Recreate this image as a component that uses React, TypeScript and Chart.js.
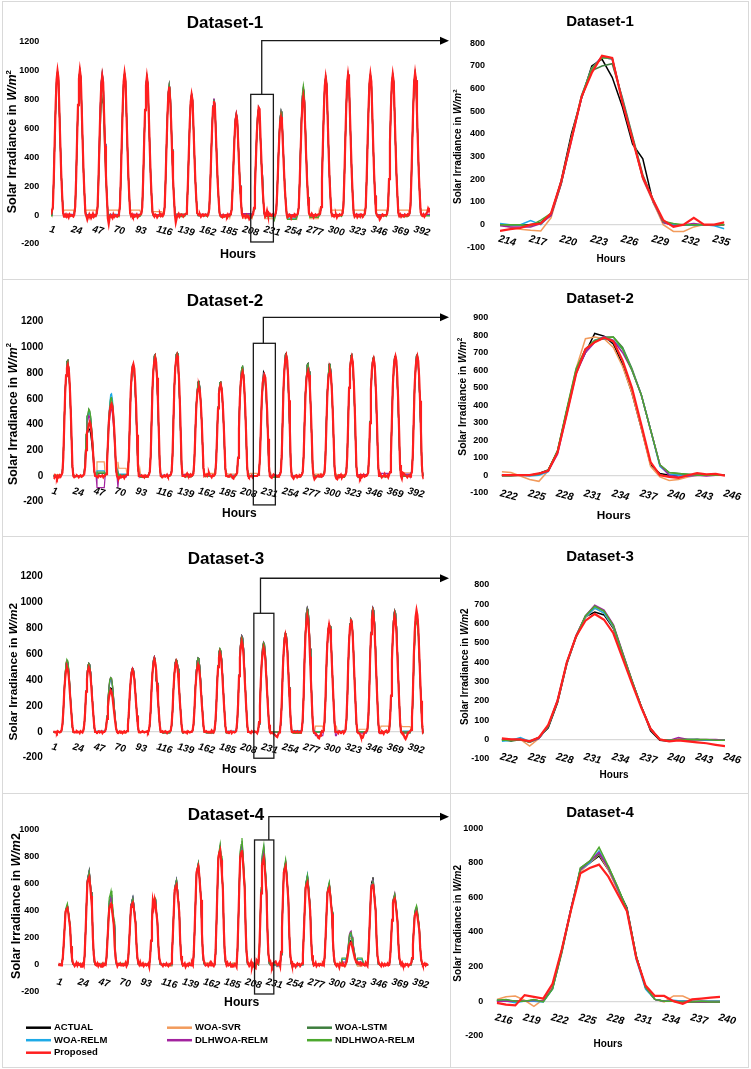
import React, { useEffect, useRef } from 'react';
import { Chart, registerables } from 'chart.js';

Chart.register(...registerables);

const FONT = "'Liberation Sans', Arial, Helvetica, sans-serif";
Chart.defaults.font.family = FONT;

// ---------- series identity ----------
const SERIES_NAMES = ['ACTUAL', 'WOA-SVR', 'WOA-LSTM', 'WOA-RELM', 'DLHWOA-RELM', 'NDLHWOA-RELM', 'Proposed'];
const SERIES_COLORS = ['#000000', '#F29B5C', '#3E7E3E', '#1EAAE7', '#A3239F', '#4CA82E', '#FF1F1F'];

// ---------- tick labels ----------
const BIG_TICKS = [1, 24, 47, 70, 93, 116, 139, 162, 185, 208, 231, 254, 277, 300, 323, 346, 369, 392];
const Z1_TICKS = [214, 217, 220, 223, 226, 229, 232, 235];
const Z2_TICKS = [222, 225, 228, 231, 234, 237, 240, 243, 246];
const Z3_TICKS = [222, 225, 228, 231, 234, 237, 240, 243, 246];
const Z4_TICKS = [216, 219, 222, 225, 228, 231, 234, 237, 240];

// ---------- categories (hours) ----------
const BIG_HOURS = Array.from({ length: 408 }, (_, i) => i + 1);
const Z1_HOURS = Array.from({ length: 23 }, (_, i) => 214 + i);
const Z2_HOURS = Array.from({ length: 25 }, (_, i) => 222 + i);
const Z3_HOURS = Array.from({ length: 25 }, (_, i) => 222 + i);
const Z4_HOURS = Array.from({ length: 25 }, (_, i) => 216 + i);

// ---------- Dataset-1 (hourly, one row per day) ----------
const d1Actual = [
  [0,10,60,260,515,755,935,995,945,725,500,290,140,20,0,0,0,0,0,0,0,0,0,0],
  [0,10,60,260,525,765,945,1005,955,735,505,290,140,20,0,0,0,0,0,0,0,0,0,0],
  [0,10,60,255,510,750,925,985,935,720,495,285,140,20,0,0,0,0,0,0,0,0,0,0],
  [0,10,60,255,515,750,925,985,935,715,490,285,135,20,0,0,0,0,0,0,0,0,0,0],
  [0,10,60,250,500,730,900,960,910,700,480,280,135,20,0,0,0,0,0,0,0,0,0,0],
  [0,10,55,235,470,690,850,905,860,660,455,260,125,20,0,0,0,0,0,0,0,0,0,0],
  [0,10,50,220,435,640,790,840,800,615,420,245,120,15,0,0,0,0,0,0,0,0,0,0],
  [0,10,50,210,420,610,755,805,765,590,405,235,115,15,0,0,0,0,0,0,0,0,0,0],
  [0,5,40,185,365,535,665,705,670,515,355,205,100,15,0,0,0,0,0,0,0,0,0,0],
  [0,10,45,195,400,560,700,730,650,520,355,290,100,10,0,0,0,0,0,0,0,0,0,0],
  [0,5,45,185,375,545,675,720,685,525,360,210,100,15,0,0,0,0,0,0,0,0,0,0],
  [0,10,55,230,460,670,825,880,835,640,440,255,125,20,0,0,0,0,0,0,0,0,0,0],
  [0,10,60,250,500,730,900,960,910,700,480,280,135,20,0,0,0,0,0,0,0,0,0,0],
  [0,10,60,255,505,740,915,975,925,710,490,285,135,20,0,0,0,0,0,0,0,0,0,0],
  [0,10,60,255,505,740,915,975,925,710,490,285,135,20,0,0,0,0,0,0,0,0,0,0],
  [0,10,60,250,505,740,915,975,925,715,490,285,140,20,0,0,0,0,0,0,0,0,0,0],
  [0,10,60,255,510,750,925,985,935,720,495,285,140,20,0,0,0,0,0,0,0,0,0,0],
];
const d1Proposed = [
  [5,5,55,255,520,765,940,1000,950,725,495,285,135,15,-10,-5,5,-10,0,-15,5,-5,0,-5],
  [-10,5,60,255,525,765,945,1005,955,735,505,290,135,10,-5,-30,-10,5,-15,0,-5,10,-10,0],
  [-5,10,55,245,500,735,905,965,920,705,480,275,130,-20,-60,-15,0,-10,-20,5,-10,0,-5,-10],
  [0,10,60,255,510,750,925,985,935,720,495,285,140,15,-5,5,-10,0,-10,-5,5,-15,-5,0],
  [5,10,55,250,500,730,900,960,910,700,480,280,135,20,0,-10,5,0,-15,-5,0,10,-5,5],
  [-5,5,50,230,465,680,835,890,800,650,445,255,125,5,-50,-20,0,10,-10,0,5,0,-10,0],
  [5,10,50,215,430,635,785,835,795,610,420,240,115,15,5,0,5,-10,0,5,-5,0,5,0],
  [-5,5,45,205,410,600,745,790,750,575,395,230,110,15,-5,-10,-15,0,-10,-5,0,-10,5,-5],
  [0,5,40,180,360,525,650,690,655,505,345,200,95,10,-10,0,-5,-15,0,-10,-5,-28,-20,-15],
  [0,5,50,190,375,565,670,745,735,540,375,210,110,20,-10,0,30,0,0,10,0,-5,5,0],
  [-5,5,40,175,355,520,640,680,645,495,340,195,95,10,-15,-10,5,0,-20,-5,0,-10,5,0],
  [0,10,50,215,430,630,775,825,785,600,410,240,115,15,0,-5,10,0,-15,0,5,-5,0,5],
  [5,10,55,250,495,725,895,955,905,695,475,275,135,20,-5,0,-10,0,5,-15,0,-5,5,0],
  [0,10,60,255,505,740,915,975,925,710,490,285,135,15,-10,0,5,-15,-5,0,-10,5,0,-5],
  [5,10,60,255,505,740,915,975,925,710,490,285,135,20,0,-10,-5,-30,-20,0,5,-5,0,0],
  [0,10,60,250,505,740,915,975,925,710,490,280,135,15,-5,5,-10,0,-5,-10,5,0,-5,5],
  [0,10,60,255,510,750,925,985,935,720,495,285,140,20,0,-5,5,-10,0,10,20,45,30,50],
];
// other models: daily peak and night level read per day
const d1SvrPeak = [990,1000,975,980,955,900,835,800,700,735,715,870,955,970,970,970,980];
const d1SvrNight = [35,35,35,35,25,10,5,0,-20,-25,-10,-25,35,35,35,35,35];
const d1LstmPeak = [985,995,810,975,950,880,830,795,690,700,700,860,950,965,965,965,975];
const d1LstmNight = [0,-5,-10,0,-5,0,-5,-10,-5,0,-30,-5,0,-5,0,-5,0];
const d1RelmPeak = [990,1000,980,980,955,900,835,800,700,740,715,875,955,970,970,970,980];
const d1RelmNight = [0,0,5,0,0,5,0,-5,0,0,-20,0,0,0,0,0,0];
const d1DlhPeak = [990,1000,975,980,955,905,840,810,710,740,715,880,955,970,970,970,980];
const d1DlhNight = [5,0,0,5,0,0,5,0,10,5,0,0,0,5,0,0,5];
const d1NdlPeak = [995,1000,900,980,955,905,835,800,700,735,715,900,960,970,970,970,980];
const d1NdlNight = [-5,-10,-5,-10,-5,-10,0,-10,-5,-10,-30,-15,-5,-10,-5,-10,-5];

// ---------- Dataset-2 ----------
const d2Actual = [
  [0,0,0,0,0,0,0,0,0,10,35,155,415,655,785,890,900,835,700,520,295,70,10,0],
  [0,0,0,0,0,0,0,0,0,5,20,80,230,330,340,370,360,330,270,200,120,30,5,0],
  [0,0,0,0,0,0,0,0,0,5,20,95,260,410,485,555,560,520,435,325,185,45,5,0],
  [0,0,0,0,0,0,0,0,0,10,35,150,400,635,755,860,870,810,680,505,285,70,10,0],
  [0,0,0,0,0,0,0,0,0,10,40,160,435,690,820,935,945,880,735,550,310,75,10,0],
  [0,0,0,0,0,0,0,0,0,10,40,160,440,695,830,945,955,890,745,555,315,75,10,0],
  [0,0,0,0,0,0,0,0,0,5,30,125,340,540,645,730,740,690,575,430,245,60,5,0],
  [0,0,0,0,0,0,0,0,0,5,30,125,335,535,635,725,730,680,570,425,240,60,5,0],
  [0,0,0,0,0,0,0,0,0,10,35,145,390,620,740,840,850,790,665,495,280,70,10,0],
  [0,0,0,0,0,0,0,0,0,10,30,135,370,590,700,810,795,750,630,470,270,60,10,0],
  [0,0,0,0,0,0,0,0,0,10,40,160,440,695,830,945,955,890,745,555,315,75,10,0],
  [0,0,0,0,0,0,0,0,0,10,35,150,400,640,760,865,875,815,685,510,290,70,10,0],
  [0,0,0,0,0,0,0,0,0,10,35,150,405,640,760,870,875,815,680,505,290,70,10,0],
  [0,0,0,0,0,0,0,0,0,10,40,160,435,690,820,935,945,880,735,550,310,75,10,0],
  [0,0,0,0,0,0,0,0,0,10,35,155,425,675,805,915,925,860,720,535,305,75,10,0],
  [0,0,0,0,0,0,0,0,0,10,35,160,430,680,815,925,935,870,730,540,310,75,10,0],
  [0,0,0,0,0,0,0,0,0,10,40,160,435,690,820,935,945,880,735,550,310,75,10,0],
];
const d2Proposed = [
  [-10,-15,5,-5,-20,0,-10,5,-5,10,25,145,390,640,780,840,865,830,720,545,320,80,0,-10],
  [-5,0,5,0,-10,0,5,-5,0,5,15,70,200,340,360,400,420,400,340,260,150,40,0,0],
  [0,-10,5,0,-5,0,5,-10,0,5,15,95,250,415,505,545,560,540,465,355,205,50,0,-15],
  [-20,-15,0,-10,-5,0,-15,0,5,10,25,150,390,645,785,845,870,835,720,550,320,80,0,0],
  [0,5,-5,0,-10,5,0,-5,0,10,30,155,415,680,830,890,920,885,765,580,340,85,0,-5],
  [-10,0,5,-5,0,10,-5,0,5,10,30,160,420,690,840,905,935,900,775,590,345,85,0,0],
  [0,-5,10,20,5,0,-5,10,0,5,20,120,315,515,625,675,695,665,575,440,255,65,0,5],
  [10,0,15,25,5,0,-10,5,0,5,20,120,320,525,640,690,710,680,590,445,265,65,0,0],
  [-5,0,5,10,0,-15,-20,0,5,10,25,140,365,600,730,785,810,780,670,510,300,75,0,-10],
  [-5,0,5,-10,0,0,0,0,0,10,25,130,350,580,720,760,785,765,655,500,290,75,0,-10],
  [-15,0,12,5,8,-3,0,-5,5,10,30,160,420,690,840,905,935,900,775,590,345,85,0,-10],
  [-20,-5,0,5,-10,0,-5,5,0,10,25,140,370,605,740,795,820,785,680,515,305,75,0,-25],
  [-15,-10,0,5,-5,0,10,-5,0,10,25,140,370,605,740,795,820,790,680,515,300,75,0,-20],
  [-25,-5,5,0,10,-15,0,-5,0,10,30,155,415,685,835,895,925,890,770,585,340,85,0,-5],
  [0,-15,5,-10,0,10,-5,0,0,10,25,155,410,675,820,885,910,875,755,575,335,80,0,0],
  [5,-10,0,0,15,-5,0,5,-10,10,30,160,420,690,835,900,930,895,770,585,345,85,0,-20],
  [25,20,10,5,0,-10,0,5,-5,10,30,160,420,690,835,900,930,895,770,585,345,85,0,-25],
];
const d2SvrPeak = [880,500,600,860,935,945,720,720,840,790,945,860,860,935,915,925,935];
const d2SvrNight = [10,0,110,60,5,0,15,20,15,20,0,5,15,10,5,0,25];
const d2LstmPeak = [900,520,610,860,940,955,740,730,850,790,950,870,870,940,920,930,940];
const d2LstmNight = [0,0,20,10,-10,0,-5,0,-5,0,-10,-5,0,-10,0,-5,0];
const d2RelmPeak = [890,500,640,865,935,945,730,725,845,780,945,865,865,935,915,925,935];
const d2RelmNight = [0,0,40,15,0,5,0,0,5,0,0,0,-5,0,0,5,10];
const d2DlhPeak = [890,470,520,860,935,945,730,725,840,790,945,865,865,935,915,925,935];
const d2DlhNight = [0,0,-90,-10,0,5,10,5,0,0,5,0,0,0,10,20,15];
const d2NdlPeak = [895,520,610,865,940,950,735,730,850,780,950,870,870,940,920,930,940];
const d2NdlNight = [0,-5,30,5,-10,0,-5,0,-5,0,-10,-5,0,-10,0,-5,0];

// ---------- Dataset-3 ----------
const d3Actual = [
  [0,0,0,0,0,0,0,0,0,10,45,150,305,415,500,520,510,450,350,235,135,35,0,0],
  [0,0,0,0,0,0,0,0,0,10,50,155,315,425,510,530,520,460,355,240,140,35,0,0],
  [0,0,0,0,0,0,0,0,0,5,30,100,200,270,325,340,335,295,230,155,90,25,0,0],
  [0,0,0,0,0,0,0,0,0,5,45,140,290,390,470,490,480,425,330,220,125,35,0,0],
  [0,0,0,0,0,0,0,0,0,10,50,170,340,465,555,580,560,400,380,250,150,40,0,0],
  [0,0,0,0,0,0,0,0,0,10,50,160,325,445,535,555,545,485,370,250,145,40,0,0],
  [0,0,0,0,0,0,0,0,0,10,50,165,335,455,545,570,560,495,380,255,150,40,0,0],
  [0,0,0,0,0,0,0,0,0,10,60,185,380,510,615,640,625,555,430,290,165,45,0,0],
  [0,0,0,0,0,0,0,0,0,10,65,215,440,595,715,745,730,650,500,335,195,50,0,0],
  [0,0,0,0,0,0,-5,0,-10,10,60,190,390,530,635,660,645,575,440,300,170,45,-5,-10],
  [0,-5,0,-5,-5,-5,0,0,0,10,70,220,450,610,735,765,750,665,515,345,200,55,0,0],
  [0,0,0,0,0,0,0,0,0,15,85,280,565,770,920,960,940,835,645,430,250,65,0,0],
  [0,0,0,0,0,0,0,0,0,10,75,240,490,665,795,830,815,720,555,375,215,60,0,0],
  [0,0,0,0,0,0,0,0,0,15,80,250,515,695,835,870,855,755,585,390,225,60,0,0],
  [0,0,0,0,0,0,0,0,0,15,85,280,565,770,920,960,940,835,645,430,250,65,0,0],
  [0,0,0,0,0,0,0,0,0,15,85,275,555,750,900,940,920,820,630,425,245,65,0,0],
  [0,0,0,0,0,0,0,0,0,15,80,260,530,720,865,900,880,785,605,405,235,65,0,0],
];
const d3Proposed = [
  [5,0,-5,0,-10,5,0,-5,0,10,55,155,310,410,475,500,480,425,325,225,130,45,0,-5],
  [0,-5,5,0,0,-10,5,0,-5,10,55,155,310,410,475,500,480,425,325,225,130,45,0,0],
  [-5,0,5,-5,0,5,-10,0,0,5,35,100,195,260,300,320,305,270,205,140,80,25,0,-5],
  [0,5,-5,0,-10,0,5,-5,0,5,55,150,295,395,455,480,460,405,310,215,120,40,0,0],
  [-5,0,5,0,-5,0,0,5,-5,10,65,175,345,460,530,560,535,475,360,250,145,50,0,0],
  [5,-5,0,5,0,-10,0,0,5,10,60,165,330,445,510,540,515,455,350,240,140,45,0,-5],
  [0,-5,0,-10,5,0,-5,0,0,10,60,160,320,425,490,520,495,440,335,230,135,45,0,0],
  [5,0,-5,0,0,-5,10,0,-5,10,70,190,375,500,575,610,585,515,395,270,155,50,0,-5],
  [0,-5,0,5,-10,0,0,-5,0,10,80,215,430,575,660,700,670,590,450,310,180,60,0,0],
  [0,-10,5,0,-5,5,0,0,-10,10,75,200,400,535,615,650,620,550,420,290,165,55,0,-10],
  [-5,-10,-15,-20,-28,-35,-40,-20,-5,10,85,235,460,615,710,750,715,635,485,335,190,65,0,-5],
  [0,5,-5,0,5,-5,0,0,-5,15,105,280,555,740,850,900,860,760,580,400,230,75,0,-10],
  [-10,-20,-30,-45,-50,-30,-10,5,0,10,95,255,510,680,785,830,795,700,535,370,210,70,0,0],
  [0,-10,5,0,-5,0,5,-10,0,15,100,270,535,715,820,870,830,735,560,385,220,75,0,-10],
  [-10,-20,-40,-50,-45,-20,-5,0,5,15,105,285,565,755,870,920,880,775,595,410,235,80,0,-10],
  [-10,5,0,-15,0,5,10,-5,0,15,105,280,555,740,850,900,860,760,580,400,230,75,0,-10],
  [-10,-25,-45,-55,-40,-20,-5,0,5,15,110,290,580,770,890,940,900,795,605,420,240,80,0,10],
];
const d3SvrPeak = [520,520,400,490,570,550,560,630,730,680,760,950,830,865,955,935,900];
const d3SvrNight = [0,0,0,-10,0,0,0,0,0,0,-5,0,45,0,20,45,40];
const d3LstmPeak = [550,530,410,490,575,555,570,640,735,690,765,955,830,870,955,935,895];
const d3LstmNight = [-5,0,0,-5,0,-10,0,-10,0,-5,0,-10,0,0,-5,0,-10];
const d3RelmPeak = [540,525,400,490,575,555,565,635,735,680,760,950,825,865,955,935,900];
const d3RelmNight = [0,0,5,0,0,-5,0,0,5,0,0,10,0,5,0,0,5];
const d3DlhPeak = [545,530,420,495,580,560,570,640,740,695,765,955,830,870,960,935,900];
const d3DlhNight = [0,0,0,0,0,0,0,0,0,0,0,0,-30,0,-10,0,0];
const d3NdlPeak = [560,530,420,490,575,560,570,645,735,690,765,950,830,870,955,935,850];
const d3NdlNight = [-5,0,0,-5,0,-5,0,-5,-5,0,0,-10,0,0,0,-5,0];

// ---------- Dataset-4 ----------
const d4Actual = [
  [0,0,0,0,0,45,160,280,395,420,440,395,340,280,135,45,5,0,0,0,0,0,0,0],
  [0,0,0,0,0,70,250,450,630,665,700,630,540,450,215,70,5,0,0,0,0,0,0,0],
  [0,0,0,0,0,45,170,300,425,445,470,420,360,300,270,50,5,0,0,0,0,0,0,0],
  [0,0,0,0,0,50,180,320,450,475,500,450,385,320,155,50,5,0,0,0,0,0,0,0],
  [0,0,0,0,0,50,175,315,470,440,490,480,380,315,150,50,5,0,0,0,0,0,0,0],
  [0,0,0,0,0,65,225,405,565,600,630,565,485,405,195,65,5,0,0,0,0,0,0,0],
  [0,0,0,0,0,75,270,480,675,715,750,675,580,480,235,75,10,0,0,0,0,0,0,0],
  [0,0,0,0,0,85,315,555,785,825,870,785,670,555,270,85,10,0,0,0,0,0,0,0],
  [0,0,0,0,0,90,315,565,790,835,880,790,680,565,275,90,10,0,0,0,0,0,0,0],
  [5,0,0,5,0,80,300,540,760,800,840,760,650,540,260,80,10,0,0,0,0,0,0,0],
  [0,0,0,0,0,75,275,485,685,720,760,685,585,485,235,75,10,0,0,0,0,0,0,0],
  [0,0,0,0,0,65,240,420,595,625,660,595,510,420,205,65,5,0,0,0,0,0,0,0],
  [0,0,0,0,0,60,215,385,540,570,600,540,460,385,185,60,5,0,0,0,0,0,0,0],
  [0,0,0,0,0,20,60,110,160,175,180,150,120,90,60,30,10,0,0,0,0,0,0,0],
  [0,0,0,0,0,65,235,415,585,620,650,585,500,415,200,65,5,0,0,0,0,0,0,0],
  [0,0,0,0,0,50,185,325,460,485,510,460,395,325,160,50,5,0,0,0,0,0,0,0],
  [0,0,0,0,0,40,150,270,380,400,420,380,325,270,130,40,5,0,0,0,0,0,0,0],
];
const d4Proposed = [
  [-10,5,0,-5,10,55,160,280,395,410,420,385,330,275,135,50,15,5,-10,0,15,-5,10,0],
  [5,-15,0,10,-5,80,245,435,610,635,650,590,510,430,205,75,25,0,-5,10,-10,5,0,-15],
  [0,10,-5,5,0,55,170,300,420,440,450,410,355,295,140,50,15,-10,5,0,10,-5,0,5],
  [-5,0,15,-10,5,60,175,310,430,450,460,420,360,300,145,50,15,0,20,-5,0,10,-10,0],
  [5,-5,0,10,-15,60,180,320,470,430,480,440,375,315,150,55,20,5,0,-10,5,0,-5,10],
  [0,-10,5,0,10,75,225,395,555,575,590,535,465,390,185,65,20,-5,0,10,-15,0,5,-5],
  [10,0,-5,15,0,95,275,490,685,710,730,665,575,480,230,85,30,10,-5,0,5,-10,0,15],
  [-5,10,0,-10,5,110,325,570,795,830,850,775,665,560,270,95,30,0,15,-5,0,10,-15,0],
  [0,-10,5,0,-15,110,325,570,795,830,850,775,665,560,270,95,30,5,-10,0,20,-20,5,-10],
  [-20,-25,35,25,15,100,300,530,740,770,790,720,620,520,250,90,30,30,0,-15,10,15,20,25],
  [10,-5,0,15,-10,95,275,490,685,710,730,665,575,480,230,85,30,0,-10,5,0,-15,0,10],
  [0,5,-10,0,10,75,230,410,570,595,610,555,480,400,195,70,25,-5,0,15,-10,0,5,-5],
  [5,0,-5,10,0,70,215,380,535,555,570,520,445,375,180,65,20,0,-10,5,0,-20,10,0],
  [-5,10,0,-10,5,20,55,100,145,160,165,140,110,80,55,30,15,20,10,5,15,0,10,5],
  [0,-5,15,0,-10,75,230,400,560,585,600,545,470,395,190,70,25,5,0,-10,10,0,-5,5],
  [-5,0,10,-5,0,60,185,330,460,480,490,445,385,320,155,55,20,0,15,-5,0,-10,5,0],
  [5,-10,0,5,10,50,150,260,365,380,390,355,305,255,125,45,15,-5,0,10,-5,5,0,0],
];
const d4SvrPeak = [430,680,480,480,480,620,740,860,870,850,750,650,590,200,630,500,410];
const d4SvrNight = [0,10,-5,10,5,-10,15,5,15,10,-15,5,10,-10,5,0,-5];
const d4LstmPeak = [440,690,520,495,495,625,745,880,920,850,770,655,600,220,620,520,430];
const d4LstmNight = [0,0,5,0,0,0,0,0,5,0,0,0,0,40,0,0,0];
const d4RelmPeak = [445,690,500,495,490,630,750,870,890,870,760,670,605,230,630,515,420];
const d4RelmNight = [0,5,0,0,5,0,0,5,0,0,-10,0,0,40,0,0,0];
const d4DlhPeak = [440,690,500,495,495,630,745,870,890,860,760,655,600,250,630,530,420];
const d4DlhNight = [0,0,0,0,0,0,0,0,0,0,0,0,0,20,0,0,0];
const d4NdlPeak = [455,690,550,490,500,625,755,895,940,890,780,665,615,240,625,525,440];
const d4NdlNight = [0,0,10,0,0,0,5,0,0,0,0,0,0,50,0,0,0];

// ---------- zoomed windows ----------
const z1Actual = [0,0,0,0,10,45,195,400,560,700,730,650,520,355,290,100,10,0,0,0,0,0,0];
const z1Svr = [0,-10,-20,-25,-28,30,180,380,560,680,740,730,550,380,200,100,0,-30,-30,-10,0,0,0];
const z1Lstm = [0,0,0,-5,10,40,180,380,560,680,700,710,560,390,220,110,10,0,0,0,0,0,0];
const z1Relm = [5,0,0,18,0,45,185,380,570,690,740,730,550,380,210,110,15,0,0,0,0,-5,-18];
const z1Dlh = [-5,-10,-10,-10,5,40,180,370,560,690,740,735,545,380,205,105,10,-5,0,5,0,0,0];
const z1Ndl = [0,0,0,-5,20,50,185,385,570,690,735,735,545,380,210,110,15,5,0,0,0,0,0];
const z1Prop = [-28,-20,-15,0,5,50,190,375,565,670,745,735,540,375,210,110,20,-10,0,30,0,0,10];

const z2Actual = [0,0,0,0,10,30,135,370,590,700,810,795,750,630,470,270,60,10,0,0,0,0,0,0,0];
const z2Svr = [20,15,-5,-25,-35,25,130,370,610,780,790,780,730,620,470,270,50,-10,-30,-25,-10,0,0,0,0];
const z2Lstm = [-5,-5,0,0,5,25,140,370,600,720,770,790,790,730,610,460,260,60,15,10,5,0,0,0,0];
const z2Relm = [0,0,0,-5,0,20,130,360,590,710,770,780,770,720,600,460,260,50,5,0,-5,0,0,0,0];
const z2Dlh = [0,0,0,0,5,25,120,350,580,700,760,790,770,700,600,460,260,60,0,-10,-5,0,-5,0,0];
const z2Ndl = [0,0,0,0,5,30,140,380,610,720,770,780,790,720,600,460,260,60,15,10,5,0,0,0,0];
const z2Prop = [0,0,0,0,10,25,130,350,580,720,760,785,765,655,500,290,75,0,-10,-15,0,12,5,8,-3];

const z3Actual = [0,-5,0,-10,10,60,190,390,530,635,660,645,575,440,300,170,45,-5,-10,0,-5,0,-5,-5,-5];
const z3Svr = [-5,-5,0,-35,5,70,200,395,530,630,680,655,580,440,300,170,55,0,-5,0,0,-5,-5,-5,-5];
const z3Lstm = [0,-10,0,-15,5,65,195,395,535,640,690,665,590,445,305,170,55,0,-5,0,0,0,-5,-5,-5];
const z3Relm = [-10,-5,10,-10,5,70,200,395,535,635,680,655,585,445,300,170,55,0,-5,0,0,0,-5,-5,-5];
const z3Dlh = [0,0,0,-15,5,70,205,400,540,640,695,670,595,450,305,170,55,0,-5,10,0,0,0,0,-5];
const z3Ndl = [-5,-5,0,-15,10,70,200,400,535,640,690,665,590,445,305,170,55,0,-5,0,0,0,0,-5,-5];
const z3Prop = [5,0,0,-10,10,75,200,400,535,615,650,620,550,420,290,165,55,0,-10,-5,-10,-15,-20,-28,-35];

const z4Actual = [0,5,0,0,5,0,80,300,540,760,800,840,760,650,540,260,80,10,0,0,0,0,0,0,0];
const z4Svr = [10,25,30,5,-30,10,80,290,530,750,800,850,760,640,520,250,80,10,-5,30,30,5,0,0,0];
const z4Lstm = [5,5,0,0,5,0,70,280,530,770,810,850,780,660,530,260,80,10,0,0,-5,-5,-5,-5,-5];
const z4Relm = [5,0,-10,0,0,-5,70,290,540,760,800,870,770,650,530,240,70,10,0,5,0,0,0,0,0];
const z4Dlh = [0,0,0,0,5,0,75,290,540,760,810,860,770,650,530,250,80,10,0,0,-5,-5,-5,-5,-5];
const z4Ndl = [5,10,0,0,10,-5,70,285,530,770,810,890,780,660,530,260,80,10,0,0,-5,-5,0,-5,-5];
const z4Prop = [-10,-20,-25,35,25,15,100,300,530,740,770,790,720,620,520,250,90,30,30,0,-15,10,15,20,25];

// model series: each day takes the ACTUAL day's profile at that model's read peak, and its read night level
const modelFromDaily = (actualRows: number[][], peaks: number[], nights: number[]) =>
  actualRows.flatMap((row, d) => {
    const top = Math.max(...row);
    return row.map((v) => (v > 0 ? Math.round((v * peaks[d]) / top) : nights[d]));
  });

const D1_SERIES = [
  d1Actual.flat(),
  modelFromDaily(d1Actual, d1SvrPeak, d1SvrNight),
  modelFromDaily(d1Actual, d1LstmPeak, d1LstmNight),
  modelFromDaily(d1Actual, d1RelmPeak, d1RelmNight),
  modelFromDaily(d1Actual, d1DlhPeak, d1DlhNight),
  modelFromDaily(d1Actual, d1NdlPeak, d1NdlNight),
  d1Proposed.flat(),
];
const D2_SERIES = [
  d2Actual.flat(),
  modelFromDaily(d2Actual, d2SvrPeak, d2SvrNight),
  modelFromDaily(d2Actual, d2LstmPeak, d2LstmNight),
  modelFromDaily(d2Actual, d2RelmPeak, d2RelmNight),
  modelFromDaily(d2Actual, d2DlhPeak, d2DlhNight),
  modelFromDaily(d2Actual, d2NdlPeak, d2NdlNight),
  d2Proposed.flat(),
];
const D3_SERIES = [
  d3Actual.flat(),
  modelFromDaily(d3Actual, d3SvrPeak, d3SvrNight),
  modelFromDaily(d3Actual, d3LstmPeak, d3LstmNight),
  modelFromDaily(d3Actual, d3RelmPeak, d3RelmNight),
  modelFromDaily(d3Actual, d3DlhPeak, d3DlhNight),
  modelFromDaily(d3Actual, d3NdlPeak, d3NdlNight),
  d3Proposed.flat(),
];
const D4_SERIES = [
  d4Actual.flat(),
  modelFromDaily(d4Actual, d4SvrPeak, d4SvrNight),
  modelFromDaily(d4Actual, d4LstmPeak, d4LstmNight),
  modelFromDaily(d4Actual, d4RelmPeak, d4RelmNight),
  modelFromDaily(d4Actual, d4DlhPeak, d4DlhNight),
  modelFromDaily(d4Actual, d4NdlPeak, d4NdlNight),
  d4Proposed.flat(),
];
const Z1_SERIES = [z1Actual, z1Svr, z1Lstm, z1Relm, z1Dlh, z1Ndl, z1Prop];
const Z2_SERIES = [z2Actual, z2Svr, z2Lstm, z2Relm, z2Dlh, z2Ndl, z2Prop];
const Z3_SERIES = [z3Actual, z3Svr, z3Lstm, z3Relm, z3Dlh, z3Ndl, z3Prop];
const Z4_SERIES = [z4Actual, z4Svr, z4Lstm, z4Relm, z4Dlh, z4Ndl, z4Prop];

// ---------- drawing helpers ----------
function drawYTitle(ctx: CanvasRenderingContext2D, x: number, y: number, size: number, sup: boolean) {
  const segs = [
    { t: 'Solar Irradiance in ', it: false, s: size, dy: 0 },
    { t: 'W/m', it: true, s: size, dy: 0 },
    { t: '2', it: false, s: sup ? size * 0.62 : size, dy: sup ? -size * 0.32 : 0 },
  ];
  ctx.save();
  ctx.translate(x, y);
  ctx.rotate(-Math.PI / 2);
  ctx.textBaseline = 'middle';
  ctx.textAlign = 'left';
  const fontOf = (sg: any) => `${sg.it ? 'italic ' : ''}bold ${sg.s}px ${FONT}`;
  let total = 0;
  const widths = segs.map((sg) => {
    ctx.font = fontOf(sg);
    const w = ctx.measureText(sg.t).width;
    total += w;
    return w;
  });
  let cx = -total / 2;
  segs.forEach((sg, i) => {
    ctx.font = fontOf(sg);
    ctx.fillText(sg.t, cx, sg.dy);
    cx += widths[i];
  });
  ctx.restore();
}

function makeDecor(d: any) {
  return {
    id: 'decor',
    afterDraw(chart: any) {
      const ctx: CanvasRenderingContext2D = chart.ctx;
      const xs = chart.scales.x;
      const ys = chart.scales.y;
      ctx.save();
      ctx.fillStyle = '#000';
      // title
      ctx.font = `bold ${d.titleSize}px ${FONT}`;
      ctx.textAlign = 'center';
      ctx.textBaseline = 'middle';
      ctx.fillText(d.title, d.titleX, d.titleY);
      // y title
      drawYTitle(ctx, d.yTitleX, d.yTitleY, d.yTitleSize, d.sup);
      // x tick labels next to the zero line
      const y0 = ys.getPixelForValue(0);
      ctx.font = `italic bold ${d.xTickSize}px ${FONT}`;
      ctx.textAlign = 'left';
      ctx.textBaseline = 'top';
      for (const t of d.xTicks) {
        const px = xs.getPixelForValue(t);
        ctx.save();
        ctx.translate(px, y0 + d.xTickOffset);
        ctx.rotate((15 * Math.PI) / 180);
        ctx.fillText(String(t), 0, 0);
        ctx.restore();
      }
      // axis title
      ctx.font = `bold ${d.hoursSize}px ${FONT}`;
      ctx.textAlign = 'center';
      ctx.textBaseline = 'middle';
      ctx.fillText('Hours', d.hoursX, d.hoursY);
      // zoom box + arrow
      if (d.box) {
        const b = d.box;
        const x0 = xs.getPixelForValue(b.h0);
        const x1 = xs.getPixelForValue(b.h1);
        const yTop = ys.getPixelForValue(b.v1);
        const yBot = ys.getPixelForValue(b.v0);
        ctx.strokeStyle = '#1a1a1a';
        ctx.lineWidth = 1.3;
        ctx.strokeRect(x0, yTop, x1 - x0, yBot - yTop);
        const ax = xs.getPixelForValue(b.ah);
        const ay = ys.getPixelForValue(b.av);
        const tip = chart.width - 1;
        ctx.beginPath();
        ctx.moveTo(ax, yTop);
        ctx.lineTo(ax, ay);
        ctx.lineTo(tip - 7, ay);
        ctx.stroke();
        ctx.fillStyle = '#000';
        ctx.beginPath();
        ctx.moveTo(tip, ay);
        ctx.lineTo(tip - 9, ay - 4);
        ctx.lineTo(tip - 9, ay + 4);
        ctx.closePath();
        ctx.fill();
      }
      // legend
      if (d.legend) {
        const ds = chart.data.datasets;
        ctx.font = `bold 9.5px ${FONT}`;
        ctx.textAlign = 'left';
        ctx.textBaseline = 'middle';
        ds.forEach((s: any, i: number) => {
          const x = d.legend.cols[i % 3];
          const y = d.legend.rows[Math.floor(i / 3)];
          ctx.strokeStyle = s.borderColor;
          ctx.lineWidth = 2.5;
          ctx.beginPath();
          ctx.moveTo(x, y);
          ctx.lineTo(x + 25, y);
          ctx.stroke();
          ctx.fillStyle = '#000';
          ctx.fillText(s.label, x + 28, y);
        });
      }
      ctx.restore();
    },
  };
}

type PanelCfg = {
  left: number; top: number; w: number; h: number;
  area: number[];
  hours: number[]; series: number[][];
  yMin: number; yMax: number; yStep: number;
  tickFont: number; tickPad: number;
  lineW: number; propW: number;
  decor: any;
};

const PANELS: PanelCfg[] = [
  {
    left: 0, top: 0, w: 450, h: 279, area: [51, 42, 430, 244],
    hours: BIG_HOURS, series: D1_SERIES, yMin: -200, yMax: 1200, yStep: 200,
    tickFont: 9, tickPad: 11.7, lineW: 1.2, propW: 2.2,
    decor: {
      title: 'Dataset-1', titleX: 225, titleY: 23, titleSize: 17,
      yTitleX: 13, yTitleY: 141.7, yTitleSize: 12.5, sup: true,
      hoursX: 238, hoursY: 255, hoursSize: 12.5,
      xTicks: BIG_TICKS, xTickSize: 10, xTickOffset: 9,
      box: { h0: 215.5, h1: 239.8, v0: -186, v1: 837, ah: 227.3, av: 1209 },
    },
  },
  {
    left: 0, top: 279, w: 450, h: 257, area: [53.3, 42.7, 423.7, 222.7],
    hours: BIG_HOURS, series: D2_SERIES, yMin: -200, yMax: 1200, yStep: 200,
    tickFont: 10, tickPad: 10, lineW: 1.2, propW: 2.2,
    decor: {
      title: 'Dataset-2', titleX: 225, titleY: 22.7, titleSize: 17,
      yTitleX: 13.3, yTitleY: 135, yTitleSize: 12.4, sup: true,
      hoursX: 239.3, hoursY: 234.3, hoursSize: 12,
      xTicks: BIG_TICKS, xTickSize: 10, xTickOffset: 10,
      box: { h0: 220.8, h1: 245, v0: -225, v1: 1032, ah: 231.8, av: 1234 },
    },
  },
  {
    left: 0, top: 536, w: 450, h: 257, area: [53.3, 40.7, 423.8, 221.7],
    hours: BIG_HOURS, series: D3_SERIES, yMin: -200, yMax: 1200, yStep: 200,
    tickFont: 10, tickPad: 10.6, lineW: 1.2, propW: 2.2,
    decor: {
      title: 'Dataset-3', titleX: 226, titleY: 23, titleSize: 17,
      yTitleX: 13.3, yTitleY: 135.7, yTitleSize: 11.8, sup: false,
      hoursX: 239.3, hoursY: 233.3, hoursSize: 12,
      xTicks: BIG_TICKS, xTickSize: 10, xTickOffset: 10,
      box: { h0: 221.3, h1: 243.3, v0: -204, v1: 917, ah: 228.6, av: 1188 },
    },
  },
  {
    left: 0, top: 793, w: 450, h: 276, area: [58.3, 37, 428.4, 198.7],
    hours: BIG_HOURS, series: D4_SERIES, yMin: -200, yMax: 1000, yStep: 200,
    tickFont: 9, tickPad: 19, lineW: 1.2, propW: 2.2,
    decor: {
      title: 'Dataset-4', titleX: 226, titleY: 22, titleSize: 17,
      yTitleX: 16.5, yTitleY: 113, yTitleSize: 12.5, sup: false,
      hoursX: 241.7, hoursY: 209.3, hoursSize: 12.2,
      xTicks: BIG_TICKS, xTickSize: 10, xTickOffset: 12,
      box: { h0: 216.8, h1: 238, v0: -217, v1: 926, ah: 232.5, av: 1099 },
      legend: { rows: [234.7, 247.2, 259.7], cols: [26, 167, 307] },
    },
  },
  {
    left: 451, top: 0, w: 297, h: 279, area: [49, 43.3, 273.4, 247.3],
    hours: Z1_HOURS, series: Z1_SERIES, yMin: -100, yMax: 800, yStep: 100,
    tickFont: 9, tickPad: 15, lineW: 1.5, propW: 2.2,
    decor: {
      title: 'Dataset-1', titleX: 149, titleY: 21.7, titleSize: 15,
      yTitleX: 7.3, yTitleY: 146.7, yTitleSize: 10, sup: true,
      hoursX: 160, hoursY: 259.3, hoursSize: 10,
      xTicks: Z1_TICKS, xTickSize: 10.5, xTickOffset: 9,
    },
  },
  {
    left: 451, top: 279, w: 297, h: 257, area: [50.7, 38.7, 274, 213.7],
    hours: Z2_HOURS, series: Z2_SERIES, yMin: -100, yMax: 900, yStep: 100,
    tickFont: 9, tickPad: 13.4, lineW: 1.5, propW: 2.2,
    decor: {
      title: 'Dataset-2', titleX: 149, titleY: 20.3, titleSize: 15,
      yTitleX: 12.3, yTitleY: 117.7, yTitleSize: 10.3, sup: true,
      hoursX: 162.7, hoursY: 236.7, hoursSize: 11.8,
      xTicks: Z2_TICKS, xTickSize: 10.5, xTickOffset: 13,
    },
  },
  {
    left: 451, top: 536, w: 297, h: 257, area: [50.7, 49, 274, 222.7],
    hours: Z3_HOURS, series: Z3_SERIES, yMin: -100, yMax: 800, yStep: 100,
    tickFont: 9, tickPad: 12.4, lineW: 1.5, propW: 2.2,
    decor: {
      title: 'Dataset-3', titleX: 149, titleY: 20.7, titleSize: 15,
      yTitleX: 14, yTitleY: 130.7, yTitleSize: 10, sup: false,
      hoursX: 163, hoursY: 239, hoursSize: 10,
      xTicks: Z3_TICKS, xTickSize: 10.5, xTickOffset: 12,
    },
  },
  {
    left: 451, top: 793, w: 297, h: 276, area: [45.7, 35.3, 269, 242.7],
    hours: Z4_HOURS, series: Z4_SERIES, yMin: -200, yMax: 1000, yStep: 200,
    tickFont: 9, tickPad: 13.4, lineW: 1.5, propW: 2.2,
    decor: {
      title: 'Dataset-4', titleX: 149, titleY: 20.3, titleSize: 15,
      yTitleX: 7.3, yTitleY: 130.3, yTitleSize: 10, sup: false,
      hoursX: 157, hoursY: 251, hoursSize: 10,
      xTicks: Z4_TICKS, xTickSize: 10.5, xTickOffset: 11,
    },
  },
];

function Panel({ cfg }: { cfg: PanelCfg }) {
  const ref = useRef<HTMLCanvasElement | null>(null);
  useEffect(() => {
    if (!ref.current) return;
    const [L, T, R, B] = cfg.area;
    const axisW = L - 1; // width of the y-axis box; labels are clipped to it
    const datasets = cfg.series.map((data, i) => ({
      label: SERIES_NAMES[i],
      data,
      borderColor: SERIES_COLORS[i],
      backgroundColor: SERIES_COLORS[i],
      borderWidth: i === 6 ? cfg.propW : cfg.lineW,
      pointRadius: 0,
      pointHoverRadius: 0,
      tension: 0,
      fill: false,
      order: 6 - i,
    }));
    const chart = new Chart(ref.current, {
      type: 'line',
      data: { labels: cfg.hours, datasets },
      options: {
        responsive: false,
        animation: false,
        devicePixelRatio: 1,
        events: [],
        layout: { padding: { left: L - axisW, top: T, right: cfg.w - R, bottom: cfg.h - B } },
        plugins: { legend: { display: false }, tooltip: { enabled: false }, title: { display: false } },
        scales: {
          x: { type: 'linear', min: cfg.hours[0], max: cfg.hours[cfg.hours.length - 1], display: false },
          y: {
            min: cfg.yMin,
            max: cfg.yMax,
            afterFit: (s: any) => { s.width = axisW; },
            ticks: {
              stepSize: cfg.yStep,
              color: '#000',
              padding: cfg.tickPad,
              font: { size: cfg.tickFont, weight: 'bold', family: FONT },
              callback: (v: any) => String(v),
            },
            grid: {
              drawTicks: false,
              lineWidth: 1.2,
              color: (c: any) => (c.tick && c.tick.value === 0 ? '#d9d9d9' : 'rgba(0,0,0,0)'),
            },
            border: { display: false },
          },
        },
      } as any,
      plugins: [makeDecor(cfg.decor)],
    });
    return () => chart.destroy();
  }, [cfg]);
  return (
    <canvas
      ref={ref}
      width={cfg.w}
      height={cfg.h}
      style={{ position: 'absolute', left: cfg.left, top: cfg.top, width: cfg.w, height: cfg.h }}
    />
  );
}

const H_LINES = [1, 279, 536, 793, 1067];
const V_LINES = [2, 450, 748];

export default function App() {
  return (
    <div style={{ position: 'absolute', left: 0, top: 0, width: 751, height: 1069, background: '#fff', overflow: 'hidden' }}>
      {PANELS.map((p, i) => (
        <Panel key={i} cfg={p} />
      ))}
      {H_LINES.map((y) => (
        <div key={'h' + y} style={{ position: 'absolute', left: 2, top: y, width: 747, height: 1, background: '#d9d9d9' }} />
      ))}
      {V_LINES.map((x) => (
        <div key={'v' + x} style={{ position: 'absolute', left: x, top: 1, width: 1, height: 1067, background: '#d9d9d9' }} />
      ))}
    </div>
  );
}
